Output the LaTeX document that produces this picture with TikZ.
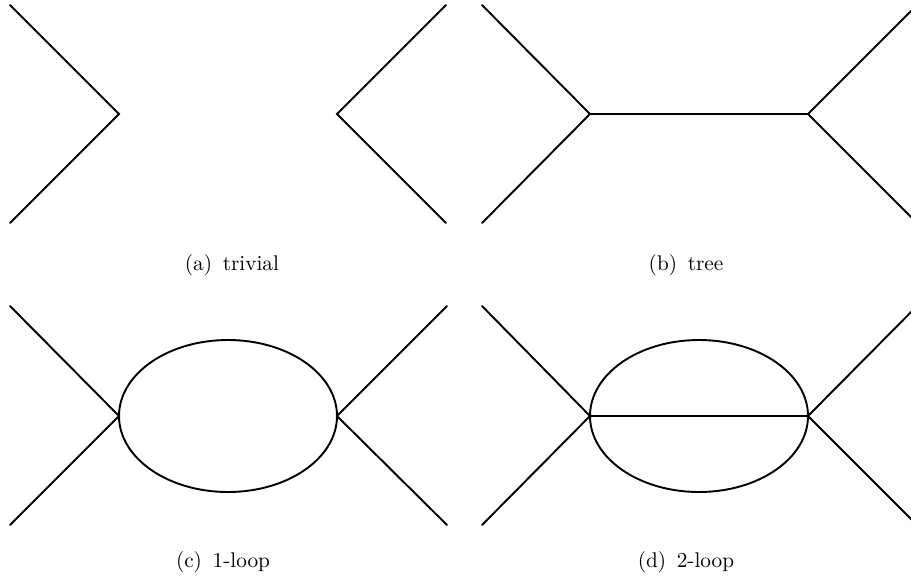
\documentclass[tikz,border=0pt]{standalone}
\begin{document}
\begin{tikzpicture}[x=0.47pt,y=-0.47pt,
  edge/.style={line width=0.9pt,line cap=round,line join=miter},
  captext/.style={font=\normalsize,inner sep=0pt}]
\useasboundingbox (0,0) rectangle (911,577);
\clip (0,0) rectangle (911,577);
% (a) trivial
\coordinate (a1) at (10,5);
\coordinate (a2) at (10,223);
\coordinate (av) at (119,114);
\coordinate (a3) at (446,5);
\coordinate (a4) at (446,223);
\coordinate (aw) at (337,114);
\draw[edge] (a1) -- (av) -- (a2);
\draw[edge] (a3) -- (aw) -- (a4);
\node[captext] (ca) at (232,265) {(a)\enspace trivial};
% (b) tree
\coordinate (b1) at (482,5);
\coordinate (b2) at (482,223);
\coordinate (bv) at (590,114);
\coordinate (bw) at (808,114);
\coordinate (b3) at (917,5);
\coordinate (b4) at (917,223);
\draw[edge] (b1) -- (bv) -- (b2);
\draw[edge] (bv) -- (bw);
\draw[edge] (b3) -- (bw) -- (b4);
\node[captext] (cb) at (686,265) {(b)\enspace tree};
% (c) 1-loop
\coordinate (c1) at (10,306);
\coordinate (c2) at (10,525);
\coordinate (cv) at (119,416);
\coordinate (cw) at (337,416);
\coordinate (c3) at (447,306);
\coordinate (c4) at (447,525);
\coordinate (cc) at (228,416);
\draw[edge] (c1) -- (cv) -- (c2);
\draw[edge] (c3) -- (cw) -- (c4);
\draw[edge] (cc) ellipse [x radius=109, y radius=76];
\node[captext] (ccap) at (223,562) {(c)\enspace 1-loop};
% (d) 2-loop
\coordinate (d1) at (482,306);
\coordinate (d2) at (482,525);
\coordinate (dv) at (590,416);
\coordinate (dw) at (808,416);
\coordinate (d3) at (917,306);
\coordinate (d4) at (917,525);
\coordinate (dc) at (699,416);
\draw[edge] (d1) -- (dv) -- (d2);
\draw[edge] (d3) -- (dw) -- (d4);
\draw[edge] (dc) ellipse [x radius=109, y radius=76];
\draw[edge] (dv) -- (dw);
\node[captext] (cd) at (686,562) {(d)\enspace 2-loop};
\end{tikzpicture}
\end{document}
